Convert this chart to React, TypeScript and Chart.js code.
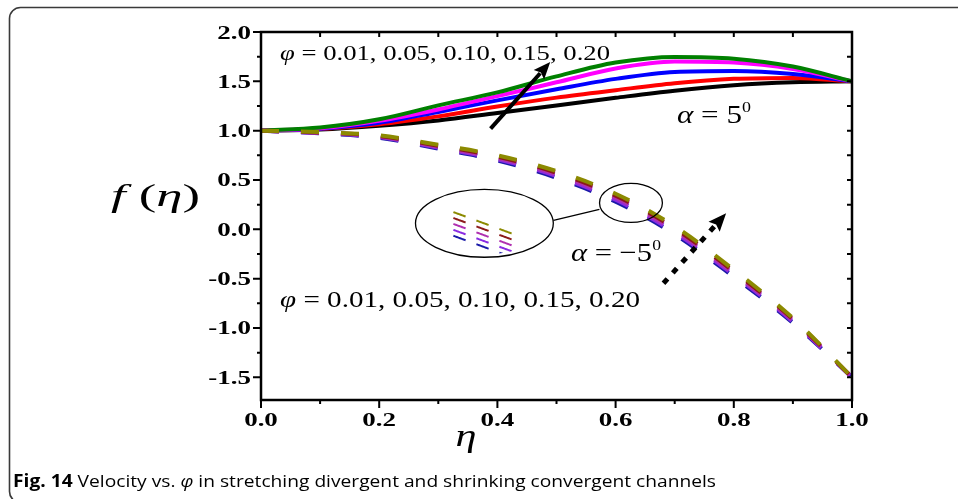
import React, { useEffect, useRef } from 'react';
import { Chart, registerables } from 'chart.js';

Chart.register(...registerables);

// ---------- data ----------
const etaValues = [0, 0.1, 0.2, 0.3, 0.4, 0.5, 0.6, 0.7, 0.8, 0.9, 1.0];
const phiLabels = ['0.01', '0.05', '0.10', '0.15', '0.20'];

// alpha = 5 deg (solid curves)
const solidPhi001 = [1.0, 1.012, 1.05, 1.104, 1.18, 1.256, 1.333, 1.405, 1.46, 1.49, 1.5];
const solidPhi005 = [1.0, 1.016, 1.064, 1.145, 1.245, 1.335, 1.41, 1.48, 1.525, 1.535, 1.5];
const solidPhi010 = [1.0, 1.02, 1.08, 1.19, 1.307, 1.42, 1.525, 1.595, 1.605, 1.575, 1.5];
const solidPhi015 = [1.0, 1.025, 1.1, 1.215, 1.35, 1.49, 1.63, 1.7, 1.69, 1.625, 1.5];
const solidPhi020 = [1.0, 1.032, 1.115, 1.256, 1.388, 1.55, 1.69, 1.747, 1.73, 1.65, 1.5];

// alpha = -5 deg (dashed curves)
const dashPhi001 = [1.0, 0.973, 0.928, 0.817, 0.698, 0.522, 0.28, -0.05, -0.482, -0.948, -1.5];
const dashPhi005 = [1.0, 0.976, 0.934, 0.827, 0.711, 0.539, 0.3, -0.03, -0.464, -0.936, -1.5];
const dashPhi010 = [1.0, 0.979, 0.94, 0.837, 0.724, 0.556, 0.32, -0.01, -0.446, -0.924, -1.5];
const dashPhi015 = [1.0, 0.982, 0.946, 0.847, 0.737, 0.573, 0.34, 0.01, -0.428, -0.912, -1.5];
const dashPhi020 = [1.0, 0.985, 0.952, 0.857, 0.75, 0.59, 0.36, 0.03, -0.41, -0.9, -1.5];

const solidSeries = [solidPhi001, solidPhi005, solidPhi010, solidPhi015, solidPhi020];
const dashSeries = [dashPhi001, dashPhi005, dashPhi010, dashPhi015, dashPhi020];
const solidColors = ['#000000', '#ff0000', '#0000ff', '#ff00ff', '#008000'];
const dashColors = ['#1a1aa8', '#8a2be2', '#b030b0', '#8b1a1a', '#8c8a00'];

const xTickValues = [0, 0.2, 0.4, 0.6, 0.8, 1.0];
const xMinorTicks = [0.1, 0.3, 0.5, 0.7, 0.9];
const yTickValues = [-1.5, -1.0, -0.5, 0.0, 0.5, 1.0, 1.5, 2.0];
const yMinorTicks = [-1.25, -0.75, -0.25, 0.25, 0.75, 1.25, 1.75];
const yMin = -1.73;
const yMax = 2.0;

// annotation anchors (data coordinates)
const solidArrow = { from: [0.3885, 1.02], to: [0.4894, 1.695] };
const dottedArrow = { from: [0.681, -0.547], to: [0.787, 0.162] };
const smallEllipse = { c: [0.626, 0.268], rx: 0.0532, ry: 0.198 };
const bigEllipse = { c: [0.378, 0.061], rx: 0.1166, ry: 0.344 };
const connector = { from: [0.4949, 0.091], to: [0.5726, 0.2026] };

const SERIF = '"Liberation Serif", "Times New Roman", serif';

type Seg = { t: string; font: string; dy?: number };

function drawRich(ctx: CanvasRenderingContext2D, segs: Seg[], x: number, y: number, targetW: number, align: 'left' | 'center' | 'right' = 'left') {
  ctx.save();
  let total = 0;
  const widths = segs.map((s) => {
    ctx.font = s.font;
    const w = ctx.measureText(s.t).width;
    total += w;
    return w;
  });
  const sx = targetW / total;
  let x0 = x;
  if (align === 'center') x0 = x - targetW / 2;
  if (align === 'right') x0 = x - targetW;
  ctx.translate(x0, y);
  ctx.scale(sx, 1);
  ctx.textAlign = 'left';
  ctx.textBaseline = 'alphabetic';
  ctx.fillStyle = '#000';
  let cx = 0;
  segs.forEach((s, i) => {
    ctx.font = s.font;
    ctx.fillText(s.t, cx, s.dy || 0);
    cx += widths[i];
  });
  ctx.restore();
}

function drawArrow(ctx: CanvasRenderingContext2D, x1: number, y1: number, x2: number, y2: number, lw: number, headLen: number, headW: number, dash: number[]) {
  const ang = Math.atan2(y2 - y1, x2 - x1);
  const bx = x2 - headLen * Math.cos(ang);
  const by = y2 - headLen * Math.sin(ang);
  ctx.save();
  ctx.strokeStyle = '#000';
  ctx.fillStyle = '#000';
  ctx.lineWidth = lw;
  ctx.lineCap = 'butt';
  ctx.setLineDash(dash);
  ctx.beginPath();
  ctx.moveTo(x1, y1);
  ctx.lineTo(bx + Math.cos(ang) * 2, by + Math.sin(ang) * 2);
  ctx.stroke();
  ctx.setLineDash([]);
  ctx.beginPath();
  ctx.moveTo(x2, y2);
  ctx.lineTo(bx + (headW / 2) * Math.sin(ang), by - (headW / 2) * Math.cos(ang));
  ctx.lineTo(bx + 3 * Math.cos(ang), by + 3 * Math.sin(ang));
  ctx.lineTo(bx - (headW / 2) * Math.sin(ang), by + (headW / 2) * Math.cos(ang));
  ctx.closePath();
  ctx.fill();
  ctx.restore();
}

function interp(arr: number[], eta: number) {
  let i = Math.floor(eta / 0.1);
  if (i < 0) i = 0;
  if (i > etaValues.length - 2) i = etaValues.length - 2;
  const t = (eta - etaValues[i]) / (etaValues[i + 1] - etaValues[i]);
  return arr[i] + t * (arr[i + 1] - arr[i]);
}

const decorPlugin = {
  id: 'decor',
  beforeDraw(chart: any) {
    const ctx: CanvasRenderingContext2D = chart.ctx;
    ctx.save();
    ctx.strokeStyle = '#3a3a3a';
    ctx.lineWidth = 1.6;
    ctx.beginPath();
    (ctx as any).roundRect(9.5, 7.5, 990, 495, 11);
    ctx.stroke();
    ctx.restore();
  },
  afterDraw(chart: any) {
    const ctx: CanvasRenderingContext2D = chart.ctx;
    const a = chart.chartArea;
    const xs = chart.scales.x;
    const ys = chart.scales.y;
    const px = (v: number) => xs.getPixelForValue(v);
    const py = (v: number) => ys.getPixelForValue(v);

    // ---- inset (magnified view of the dashed bundle) ----
    const cs = { x: px(smallEllipse.c[0]), y: py(smallEllipse.c[1]) };
    const cb = { x: px(bigEllipse.c[0]), y: py(bigEllipse.c[1]) };
    const brx = px(bigEllipse.c[0] + bigEllipse.rx) - cb.x;
    const bry = cb.y - py(bigEllipse.c[1] + bigEllipse.ry);
    const srx = px(smallEllipse.c[0] + smallEllipse.rx) - cs.x;
    const sry = cs.y - py(smallEllipse.c[1] + smallEllipse.ry);
    const Mx = 4.5;
    const My = 3.0;
    ctx.save();
    ctx.beginPath();
    ctx.ellipse(cb.x, cb.y, brx - 3, bry - 3, 0, 0, Math.PI * 2);
    ctx.clip();
    const startPx = cs.x - 31 / Mx;
    const endPx = cs.x + 32 / Mx;
    dashSeries.forEach((arr, i) => {
      ctx.strokeStyle = dashColors[i];
      ctx.lineWidth = 2;
      ctx.setLineDash([13, 11.5]);
      ctx.beginPath();
      let first = true;
      for (let p = startPx; p <= endPx; p += 0.25) {
        const eta = xs.getValueForPixel(p);
        const yy = py(interp(arr, eta));
        const X = cb.x + Mx * (p - cs.x);
        const Y = cb.y + 2 + My * (yy - cs.y);
        if (first) { ctx.moveTo(X, Y); first = false; }
        else ctx.lineTo(X, Y);
      }
      ctx.stroke();
    });
    ctx.restore();

    // ellipses + connector
    ctx.save();
    ctx.strokeStyle = '#000';
    ctx.lineWidth = 1.3;
    ctx.beginPath();
    ctx.ellipse(cb.x, cb.y, brx, bry, 0, 0, Math.PI * 2);
    ctx.stroke();
    ctx.beginPath();
    ctx.ellipse(cs.x, cs.y, srx, sry, 0, 0, Math.PI * 2);
    ctx.stroke();
    ctx.beginPath();
    ctx.moveTo(px(connector.from[0]), py(connector.from[1]));
    ctx.lineTo(px(connector.to[0]), py(connector.to[1]));
    ctx.stroke();
    ctx.restore();

    // arrows
    drawArrow(ctx, px(solidArrow.from[0]), py(solidArrow.from[1]), px(solidArrow.to[0]), py(solidArrow.to[1]), 4, 17, 14, []);
    drawArrow(ctx, px(dottedArrow.from[0]), py(dottedArrow.from[1]), px(dottedArrow.to[0]), py(dottedArrow.to[1]), 5, 18, 15, [6, 8]);

    // ---- plot frame and ticks ----
    ctx.save();
    ctx.strokeStyle = '#000';
    ctx.lineWidth = 2.5;
    ctx.strokeRect(a.left, a.top, a.right - a.left, a.bottom - a.top);
    ctx.lineWidth = 2;
    ctx.beginPath();
    yTickValues.forEach((v) => {
      const y = py(v);
      ctx.moveTo(a.left, y); ctx.lineTo(a.left - 8, y);
      ctx.moveTo(a.right, y); ctx.lineTo(a.right - 5, y);
    });
    yMinorTicks.forEach((v) => {
      const y = py(v);
      ctx.moveTo(a.left, y); ctx.lineTo(a.left - 4, y);
      ctx.moveTo(a.right, y); ctx.lineTo(a.right - 5, y);
    });
    xTickValues.forEach((v) => {
      const x = px(v);
      ctx.moveTo(x, a.bottom); ctx.lineTo(x, a.bottom + 8);
      ctx.moveTo(x, a.top); ctx.lineTo(x, a.top + 5);
    });
    xMinorTicks.forEach((v) => {
      const x = px(v);
      ctx.moveTo(x, a.bottom); ctx.lineTo(x, a.bottom + 4);
      ctx.moveTo(x, a.top); ctx.lineTo(x, a.top + 5);
    });
    ctx.stroke();
    ctx.restore();

    // tick labels (stretched bold serif)
    const tickFont = `bold 19px ${SERIF}`;
    const tsx = 1.42;
    ctx.save();
    ctx.font = tickFont;
    yTickValues.forEach((v) => {
      const t = v.toFixed(1);
      const w = ctx.measureText(t).width * tsx;
      drawRich(ctx, [{ t, font: tickFont }], a.left - 10, py(v) + 6.5, w, 'right');
    });
    xTickValues.forEach((v) => {
      const t = v.toFixed(1);
      const w = ctx.measureText(t).width * tsx;
      drawRich(ctx, [{ t, font: tickFont }], px(v), a.bottom + 26, w, 'center');
    });
    ctx.restore();

    // axis titles
    drawRich(ctx, [
      { t: 'f', font: `italic 32px ${SERIF}` },
      { t: ' (', font: `32px ${SERIF}` },
      { t: 'η', font: `italic 32px ${SERIF}` },
      { t: ')', font: `32px ${SERIF}` },
    ], 111, 206, 89);
    drawRich(ctx, [{ t: 'η', font: `italic 32px ${SERIF}` }], 466, 446, 21, 'center');

    // annotation texts
    const phiText = (size: number): Seg[] => [
      { t: 'φ', font: `italic ${size}px ${SERIF}` },
      { t: ' = ' + phiLabels.join(', '), font: `${size}px ${SERIF}` },
    ];
    drawRich(ctx, phiText(21), 280, 60, 330);
    drawRich(ctx, phiText(23), 280, 307, 360);
    drawRich(ctx, [
      { t: 'α', font: `italic 26px ${SERIF}` },
      { t: ' = 5', font: `26px ${SERIF}` },
      { t: '0', font: `15px ${SERIF}`, dy: -11 },
    ], 677, 123, 74);
    drawRich(ctx, [
      { t: 'α', font: `italic 26px ${SERIF}` },
      { t: ' = \u22125', font: `26px ${SERIF}` },
      { t: '0', font: `15px ${SERIF}`, dy: -11 },
    ], 571, 261, 90);

    // caption
    drawRich(ctx, [
      { t: 'Fig. 14', font: `bold 17px "Open Sans", sans-serif` },
      { t: ' Velocity vs. ', font: `17px "Open Sans", sans-serif` },
      { t: 'φ', font: `italic 17px "Open Sans", sans-serif` },
      { t: ' in stretching divergent and shrinking convergent channels', font: `17px "Open Sans", sans-serif` },
    ], 13, 487, 703);
  },
};

export default function App() {
  const ref = useRef<HTMLCanvasElement | null>(null);
  useEffect(() => {
    if (!ref.current) return;
    const datasets: any[] = [];
    // dataset 0 is drawn on top -> dashed olive first
    for (let i = dashSeries.length - 1; i >= 0; i--) {
      datasets.push({
        label: `α=-5°, φ=${phiLabels[i]}`,
        data: etaValues.map((e, k) => ({ x: e, y: dashSeries[i][k] })),
        borderColor: dashColors[i],
        borderWidth: 4,
        borderDash: [18, 22],
        borderCapStyle: 'butt',
        cubicInterpolationMode: 'monotone',
        pointRadius: 0,
        fill: false,
      });
    }
    for (let i = solidSeries.length - 1; i >= 0; i--) {
      datasets.push({
        label: `α=5°, φ=${phiLabels[i]}`,
        data: etaValues.map((e, k) => ({ x: e, y: solidSeries[i][k] })),
        borderColor: solidColors[i],
        borderWidth: 4,
        cubicInterpolationMode: 'monotone',
        pointRadius: 0,
        fill: false,
      });
    }
    const chart = new Chart(ref.current, {
      type: 'line',
      data: { datasets },
      options: {
        responsive: false,
        animation: false,
        devicePixelRatio: 1,
        layout: { padding: { left: 261, right: 106, top: 32, bottom: 99 } },
        scales: {
          x: { type: 'linear', min: 0, max: 1, display: false },
          y: { type: 'linear', min: yMin, max: yMax, display: false },
        },
        plugins: { legend: { display: false }, tooltip: { enabled: false } },
      },
      plugins: [decorPlugin],
    } as any);
    return () => chart.destroy();
  }, []);
  return (
    <div style={{ position: 'fixed', left: 0, top: 0, width: 958, height: 499, background: '#fff' }}>
      <canvas ref={ref} width={958} height={499} style={{ display: 'block' }} />
    </div>
  );
}
